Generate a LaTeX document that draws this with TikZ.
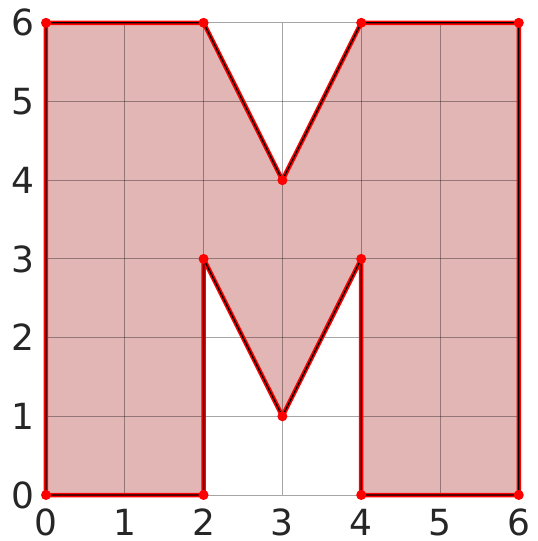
\documentclass[tikz,border=0pt]{standalone}
\usepackage{fontspec}
\setmainfont{DejaVu Sans}
\definecolor{fillc}{RGB}{162,12,12}
\definecolor{tickc}{RGB}{38,38,38}
\begin{document}
\begin{tikzpicture}[x=78.8pt,y=78.7pt,
  gridline/.style={draw=black,opacity=0.35,line width=0.8pt},
  region/.style={fill=fillc,fill opacity=0.3},
  outline/.style={draw=red,line width=4.5pt,line join=round},
  inner/.style={draw=black,line width=1.3pt,line join=round},
  vdot/.style={circle,fill=red,inner sep=0pt,minimum size=10pt},
  xlab/.style={anchor=north,inner sep=0pt,yshift=-14pt,text=tickc,font=\fontsize{36}{40}\selectfont},
  ylab/.style={anchor=east,inner sep=0pt,xshift=-11pt,text=tickc,font=\fontsize{36}{40}\selectfont}]
\useasboundingbox (-46pt,-46pt) rectangle (492pt,495pt);
% vertices
\coordinate (p1) at (0,0);
\coordinate (p2) at (0,6);
\coordinate (p3) at (2,6);
\coordinate (p4) at (3,4);
\coordinate (p5) at (4,6);
\coordinate (p6) at (6,6);
\coordinate (p7) at (6,0);
\coordinate (p8) at (4,0);
\coordinate (p9) at (4,3);
\coordinate (p10) at (3,1);
\coordinate (p11) at (2,3);
\coordinate (p12) at (2,0);
% fill
\fill[region] (p1) -- (p2) -- (p3) -- (p4) -- (p5) -- (p6) -- (p7) -- (p8) -- (p9) -- (p10) -- (p11) -- (p12) -- cycle;
% grid
\foreach \i in {0,...,6} {
  \draw[gridline] (\i,0) -- (\i,6);
  \draw[gridline] (0,\i) -- (6,\i);
}
% outline
\draw[outline] (p1) -- (p2) -- (p3) -- (p4) -- (p5) -- (p6) -- (p7) -- (p8) -- (p9) -- (p10) -- (p11) -- (p12) -- cycle;
\draw[inner] (p1) -- (p2) -- (p3) -- (p4) -- (p5) -- (p6) -- (p7) -- (p8) -- (p9) -- (p10) -- (p11) -- (p12) -- cycle;
\foreach \k in {1,...,12} \node[vdot] (d\k) at (p\k) {};
% tick labels
\foreach \i in {0,...,6} {
  \node[xlab] (xl\i) at (\i,0) {\i};
  \node[ylab] (yl\i) at (0,\i) {\i};
}
\end{tikzpicture}
\end{document}
